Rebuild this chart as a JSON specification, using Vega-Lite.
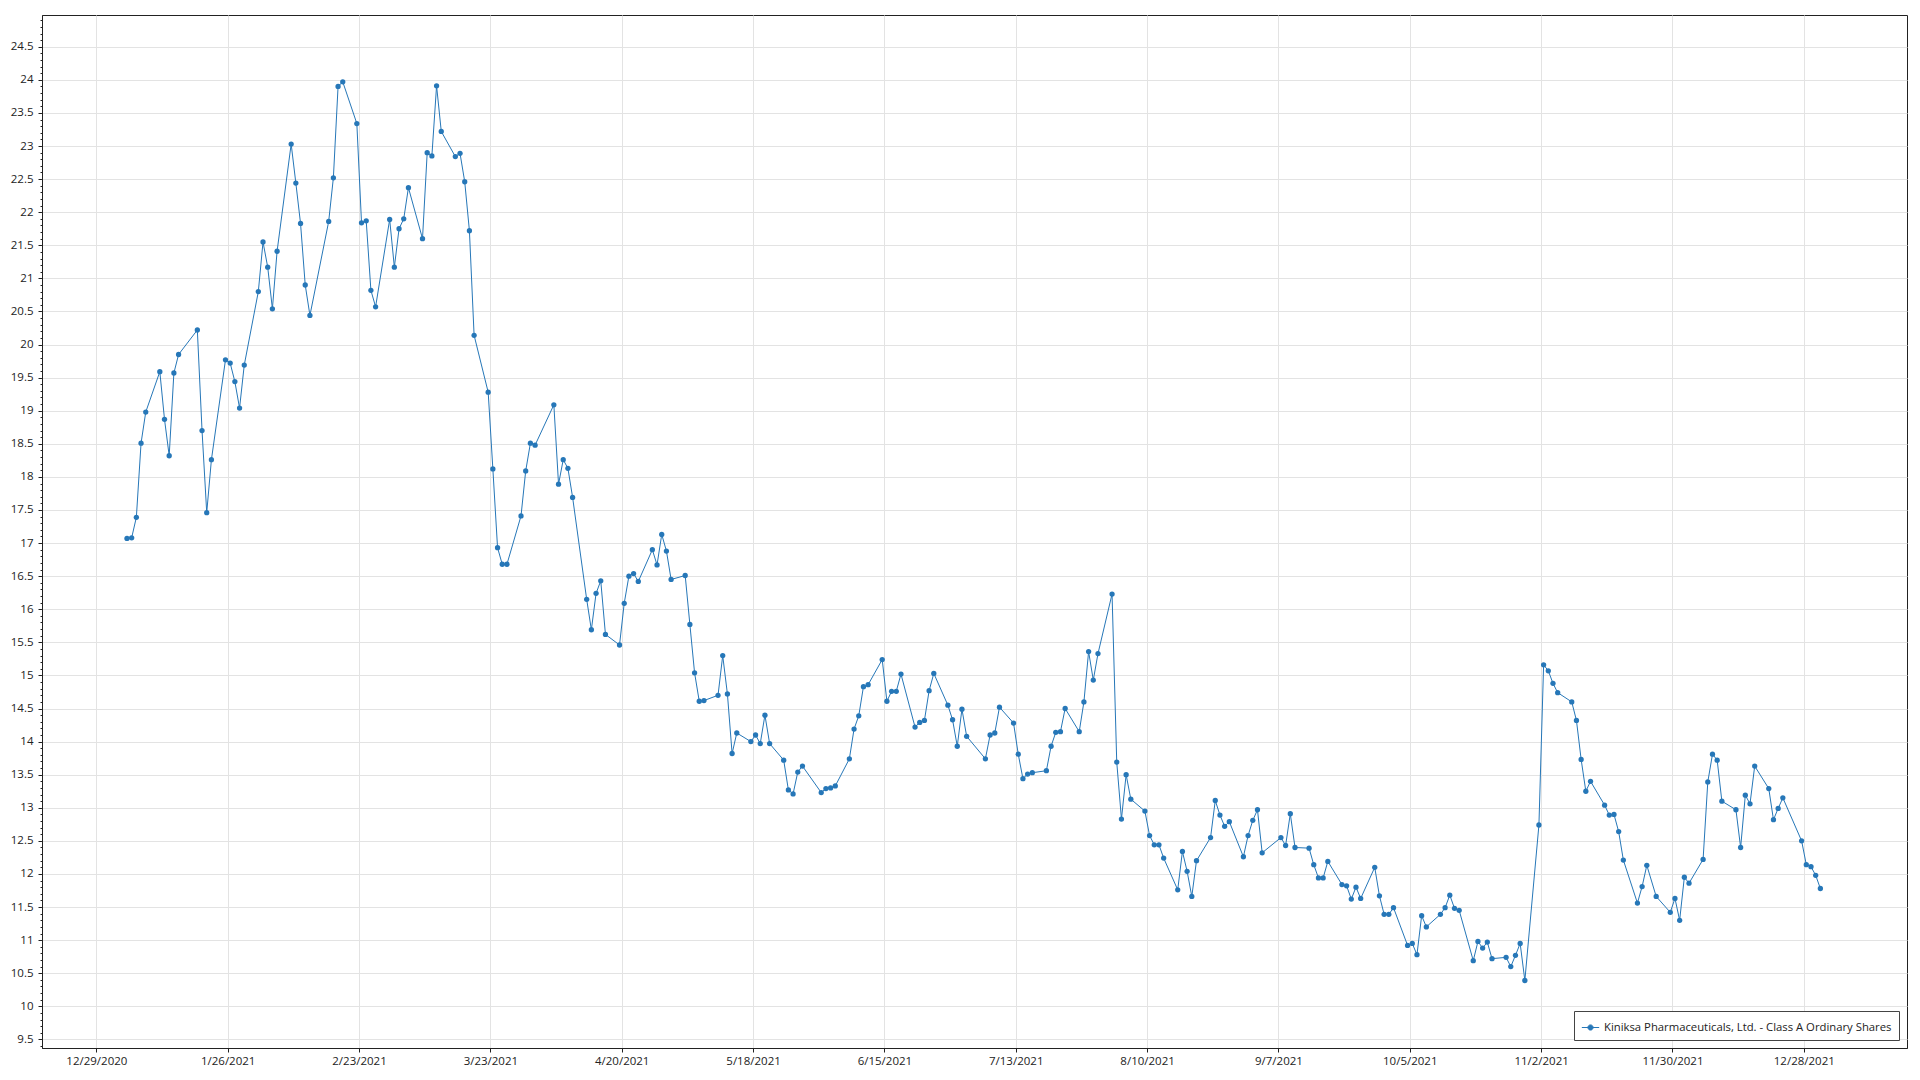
{
  "$schema": "https://vega.github.io/schema/vega-lite/v6.json",
  "autosize": {"type": "none"},
  "width": 1865,
  "height": 1033,
  "padding": {"left": 42, "top": 15, "right": 13, "bottom": 32},
  "background": "white",
  "config": {
    "view": {"stroke": "#222", "strokeWidth": 1},
    "font": "Open Sans",
    "axis": {"labelFont": "Open Sans", "labelFontSize": 11.5, "labelColor": "#222", "domainColor": "#222", "tickColor": "#222", "gridColor": "#e3e3e3", "gridWidth": 1, "title": null}
  },
  "data": {"values": [
    {"date": "2021-01-04", "close": 17.07}, {"date": "2021-01-05", "close": 17.08}, {"date": "2021-01-06", "close": 17.39}, {"date": "2021-01-07", "close": 18.51}, {"date": "2021-01-08", "close": 18.98},
    {"date": "2021-01-11", "close": 19.59}, {"date": "2021-01-12", "close": 18.87}, {"date": "2021-01-13", "close": 18.32}, {"date": "2021-01-14", "close": 19.57}, {"date": "2021-01-15", "close": 19.85},
    {"date": "2021-01-19", "close": 20.22}, {"date": "2021-01-20", "close": 18.70}, {"date": "2021-01-21", "close": 17.46}, {"date": "2021-01-22", "close": 18.26},
    {"date": "2021-01-25", "close": 19.77}, {"date": "2021-01-26", "close": 19.72}, {"date": "2021-01-27", "close": 19.44}, {"date": "2021-01-28", "close": 19.04}, {"date": "2021-01-29", "close": 19.69},
    {"date": "2021-02-01", "close": 20.80}, {"date": "2021-02-02", "close": 21.55}, {"date": "2021-02-03", "close": 21.17}, {"date": "2021-02-04", "close": 20.54}, {"date": "2021-02-05", "close": 21.41},
    {"date": "2021-02-08", "close": 23.03}, {"date": "2021-02-09", "close": 22.44}, {"date": "2021-02-10", "close": 21.83}, {"date": "2021-02-11", "close": 20.90}, {"date": "2021-02-12", "close": 20.44},
    {"date": "2021-02-16", "close": 21.86}, {"date": "2021-02-17", "close": 22.52}, {"date": "2021-02-18", "close": 23.90}, {"date": "2021-02-19", "close": 23.97},
    {"date": "2021-02-22", "close": 23.34}, {"date": "2021-02-23", "close": 21.84}, {"date": "2021-02-24", "close": 21.87}, {"date": "2021-02-25", "close": 20.82}, {"date": "2021-02-26", "close": 20.57},
    {"date": "2021-03-01", "close": 21.89}, {"date": "2021-03-02", "close": 21.17}, {"date": "2021-03-03", "close": 21.75}, {"date": "2021-03-04", "close": 21.90}, {"date": "2021-03-05", "close": 22.37},
    {"date": "2021-03-08", "close": 21.60}, {"date": "2021-03-09", "close": 22.90}, {"date": "2021-03-10", "close": 22.85}, {"date": "2021-03-11", "close": 23.91}, {"date": "2021-03-12", "close": 23.22},
    {"date": "2021-03-15", "close": 22.84}, {"date": "2021-03-16", "close": 22.89}, {"date": "2021-03-17", "close": 22.46}, {"date": "2021-03-18", "close": 21.72}, {"date": "2021-03-19", "close": 20.14},
    {"date": "2021-03-22", "close": 19.28}, {"date": "2021-03-23", "close": 18.12}, {"date": "2021-03-24", "close": 16.93}, {"date": "2021-03-25", "close": 16.68}, {"date": "2021-03-26", "close": 16.68},
    {"date": "2021-03-29", "close": 17.41}, {"date": "2021-03-30", "close": 18.09}, {"date": "2021-03-31", "close": 18.51}, {"date": "2021-04-01", "close": 18.48},
    {"date": "2021-04-05", "close": 19.09}, {"date": "2021-04-06", "close": 17.89}, {"date": "2021-04-07", "close": 18.26}, {"date": "2021-04-08", "close": 18.13}, {"date": "2021-04-09", "close": 17.69},
    {"date": "2021-04-12", "close": 16.15}, {"date": "2021-04-13", "close": 15.69}, {"date": "2021-04-14", "close": 16.24}, {"date": "2021-04-15", "close": 16.43}, {"date": "2021-04-16", "close": 15.62},
    {"date": "2021-04-19", "close": 15.46}, {"date": "2021-04-20", "close": 16.09}, {"date": "2021-04-21", "close": 16.50}, {"date": "2021-04-22", "close": 16.54}, {"date": "2021-04-23", "close": 16.42},
    {"date": "2021-04-26", "close": 16.90}, {"date": "2021-04-27", "close": 16.67}, {"date": "2021-04-28", "close": 17.13}, {"date": "2021-04-29", "close": 16.88}, {"date": "2021-04-30", "close": 16.45},
    {"date": "2021-05-03", "close": 16.51}, {"date": "2021-05-04", "close": 15.77}, {"date": "2021-05-05", "close": 15.04}, {"date": "2021-05-06", "close": 14.61}, {"date": "2021-05-07", "close": 14.62},
    {"date": "2021-05-10", "close": 14.70}, {"date": "2021-05-11", "close": 15.30}, {"date": "2021-05-12", "close": 14.72}, {"date": "2021-05-13", "close": 13.82}, {"date": "2021-05-14", "close": 14.13},
    {"date": "2021-05-17", "close": 14.00}, {"date": "2021-05-18", "close": 14.10}, {"date": "2021-05-19", "close": 13.97}, {"date": "2021-05-20", "close": 14.40}, {"date": "2021-05-21", "close": 13.97},
    {"date": "2021-05-24", "close": 13.72}, {"date": "2021-05-25", "close": 13.27}, {"date": "2021-05-26", "close": 13.21}, {"date": "2021-05-27", "close": 13.54}, {"date": "2021-05-28", "close": 13.63},
    {"date": "2021-06-01", "close": 13.23}, {"date": "2021-06-02", "close": 13.29}, {"date": "2021-06-03", "close": 13.30}, {"date": "2021-06-04", "close": 13.33},
    {"date": "2021-06-07", "close": 13.74}, {"date": "2021-06-08", "close": 14.19}, {"date": "2021-06-09", "close": 14.39}, {"date": "2021-06-10", "close": 14.83}, {"date": "2021-06-11", "close": 14.86},
    {"date": "2021-06-14", "close": 15.24}, {"date": "2021-06-15", "close": 14.61}, {"date": "2021-06-16", "close": 14.76}, {"date": "2021-06-17", "close": 14.76}, {"date": "2021-06-18", "close": 15.02},
    {"date": "2021-06-21", "close": 14.22}, {"date": "2021-06-22", "close": 14.29}, {"date": "2021-06-23", "close": 14.32}, {"date": "2021-06-24", "close": 14.77}, {"date": "2021-06-25", "close": 15.03},
    {"date": "2021-06-28", "close": 14.55}, {"date": "2021-06-29", "close": 14.33}, {"date": "2021-06-30", "close": 13.93}, {"date": "2021-07-01", "close": 14.49}, {"date": "2021-07-02", "close": 14.08},
    {"date": "2021-07-06", "close": 13.74}, {"date": "2021-07-07", "close": 14.10}, {"date": "2021-07-08", "close": 14.13}, {"date": "2021-07-09", "close": 14.52},
    {"date": "2021-07-12", "close": 14.28}, {"date": "2021-07-13", "close": 13.81}, {"date": "2021-07-14", "close": 13.44}, {"date": "2021-07-15", "close": 13.51}, {"date": "2021-07-16", "close": 13.53},
    {"date": "2021-07-19", "close": 13.56}, {"date": "2021-07-20", "close": 13.93}, {"date": "2021-07-21", "close": 14.14}, {"date": "2021-07-22", "close": 14.15}, {"date": "2021-07-23", "close": 14.50},
    {"date": "2021-07-26", "close": 14.15}, {"date": "2021-07-27", "close": 14.60}, {"date": "2021-07-28", "close": 15.36}, {"date": "2021-07-29", "close": 14.93}, {"date": "2021-07-30", "close": 15.33},
    {"date": "2021-08-02", "close": 16.23}, {"date": "2021-08-03", "close": 13.69}, {"date": "2021-08-04", "close": 12.83}, {"date": "2021-08-05", "close": 13.50}, {"date": "2021-08-06", "close": 13.13},
    {"date": "2021-08-09", "close": 12.95}, {"date": "2021-08-10", "close": 12.58}, {"date": "2021-08-11", "close": 12.44}, {"date": "2021-08-12", "close": 12.44}, {"date": "2021-08-13", "close": 12.24},
    {"date": "2021-08-16", "close": 11.76}, {"date": "2021-08-17", "close": 12.34}, {"date": "2021-08-18", "close": 12.04}, {"date": "2021-08-19", "close": 11.66}, {"date": "2021-08-20", "close": 12.20},
    {"date": "2021-08-23", "close": 12.55}, {"date": "2021-08-24", "close": 13.11}, {"date": "2021-08-25", "close": 12.89}, {"date": "2021-08-26", "close": 12.72}, {"date": "2021-08-27", "close": 12.79},
    {"date": "2021-08-30", "close": 12.26}, {"date": "2021-08-31", "close": 12.58}, {"date": "2021-09-01", "close": 12.81}, {"date": "2021-09-02", "close": 12.97}, {"date": "2021-09-03", "close": 12.32},
    {"date": "2021-09-07", "close": 12.55}, {"date": "2021-09-08", "close": 12.43}, {"date": "2021-09-09", "close": 12.91}, {"date": "2021-09-10", "close": 12.40},
    {"date": "2021-09-13", "close": 12.39}, {"date": "2021-09-14", "close": 12.14}, {"date": "2021-09-15", "close": 11.94}, {"date": "2021-09-16", "close": 11.94}, {"date": "2021-09-17", "close": 12.19},
    {"date": "2021-09-20", "close": 11.84}, {"date": "2021-09-21", "close": 11.82}, {"date": "2021-09-22", "close": 11.62}, {"date": "2021-09-23", "close": 11.80}, {"date": "2021-09-24", "close": 11.63},
    {"date": "2021-09-27", "close": 12.10}, {"date": "2021-09-28", "close": 11.67}, {"date": "2021-09-29", "close": 11.39}, {"date": "2021-09-30", "close": 11.39}, {"date": "2021-10-01", "close": 11.49},
    {"date": "2021-10-04", "close": 10.92}, {"date": "2021-10-05", "close": 10.95}, {"date": "2021-10-06", "close": 10.78}, {"date": "2021-10-07", "close": 11.37}, {"date": "2021-10-08", "close": 11.20},
    {"date": "2021-10-11", "close": 11.39}, {"date": "2021-10-12", "close": 11.49}, {"date": "2021-10-13", "close": 11.68}, {"date": "2021-10-14", "close": 11.48}, {"date": "2021-10-15", "close": 11.45},
    {"date": "2021-10-18", "close": 10.69}, {"date": "2021-10-19", "close": 10.98}, {"date": "2021-10-20", "close": 10.88}, {"date": "2021-10-21", "close": 10.97}, {"date": "2021-10-22", "close": 10.72},
    {"date": "2021-10-25", "close": 10.74}, {"date": "2021-10-26", "close": 10.60}, {"date": "2021-10-27", "close": 10.77}, {"date": "2021-10-28", "close": 10.95}, {"date": "2021-10-29", "close": 10.39},
    {"date": "2021-11-01", "close": 12.74}, {"date": "2021-11-02", "close": 15.16}, {"date": "2021-11-03", "close": 15.07}, {"date": "2021-11-04", "close": 14.88}, {"date": "2021-11-05", "close": 14.74},
    {"date": "2021-11-08", "close": 14.60}, {"date": "2021-11-09", "close": 14.32}, {"date": "2021-11-10", "close": 13.73}, {"date": "2021-11-11", "close": 13.25}, {"date": "2021-11-12", "close": 13.40},
    {"date": "2021-11-15", "close": 13.04}, {"date": "2021-11-16", "close": 12.89}, {"date": "2021-11-17", "close": 12.90}, {"date": "2021-11-18", "close": 12.64}, {"date": "2021-11-19", "close": 12.21},
    {"date": "2021-11-22", "close": 11.56}, {"date": "2021-11-23", "close": 11.81}, {"date": "2021-11-24", "close": 12.13}, {"date": "2021-11-26", "close": 11.66},
    {"date": "2021-11-29", "close": 11.42}, {"date": "2021-11-30", "close": 11.63}, {"date": "2021-12-01", "close": 11.30}, {"date": "2021-12-02", "close": 11.95}, {"date": "2021-12-03", "close": 11.86},
    {"date": "2021-12-06", "close": 12.22}, {"date": "2021-12-07", "close": 13.39}, {"date": "2021-12-08", "close": 13.81}, {"date": "2021-12-09", "close": 13.72}, {"date": "2021-12-10", "close": 13.10},
    {"date": "2021-12-13", "close": 12.97}, {"date": "2021-12-14", "close": 12.40}, {"date": "2021-12-15", "close": 13.19}, {"date": "2021-12-16", "close": 13.06}, {"date": "2021-12-17", "close": 13.63},
    {"date": "2021-12-20", "close": 13.29}, {"date": "2021-12-21", "close": 12.82}, {"date": "2021-12-22", "close": 12.99}, {"date": "2021-12-23", "close": 13.15},
    {"date": "2021-12-27", "close": 12.50}, {"date": "2021-12-28", "close": 12.14}, {"date": "2021-12-29", "close": 12.11}, {"date": "2021-12-30", "close": 11.98}, {"date": "2021-12-31", "close": 11.78}
  ]},
  "encoding": {
    "x": {
      "field": "date", "type": "temporal",
      "scale": {"type": "utc", "domain": [{"year": 2020, "month": 12, "date": 17, "hours": 10, "utc": true}, {"year": 2022, "month": 1, "date": 19, "utc": true}], "nice": false},
      "axis": {
        "values": [
          {"year": 2020, "month": 12, "date": 29, "utc": true}, {"year": 2021, "month": 1, "date": 26, "utc": true}, {"year": 2021, "month": 2, "date": 23, "utc": true},
          {"year": 2021, "month": 3, "date": 23, "utc": true}, {"year": 2021, "month": 4, "date": 20, "utc": true}, {"year": 2021, "month": 5, "date": 18, "utc": true},
          {"year": 2021, "month": 6, "date": 15, "utc": true}, {"year": 2021, "month": 7, "date": 13, "utc": true}, {"year": 2021, "month": 8, "date": 10, "utc": true},
          {"year": 2021, "month": 9, "date": 7, "utc": true}, {"year": 2021, "month": 10, "date": 5, "utc": true}, {"year": 2021, "month": 11, "date": 2, "utc": true},
          {"year": 2021, "month": 11, "date": 30, "utc": true}, {"year": 2021, "month": 12, "date": 28, "utc": true}
        ],
        "format": "%-m/%-d/%Y", "tickSize": 4, "labelPadding": 3, "labelFlush": false, "labelOverlap": false
      }
    },
    "color": {
      "datum": "Kiniksa Pharmaceuticals, Ltd. - Class A Ordinary Shares",
      "scale": {"range": ["#2677b8"]},
      "legend": {
        "title": null, "orient": "bottom-right", "offset": 8, "padding": 7,
        "fillColor": "white", "strokeColor": "#444",
        "labelFont": "Open Sans", "labelFontSize": 11.3, "labelColor": "#222", "labelLimit": 0,
        "symbolType": "M-1,0H1M-0.3,0A0.3,0.3,0,1,1,0.3,0A0.3,0.3,0,1,1,-0.3,0Z",
        "symbolSize": 300, "symbolStrokeWidth": 1, "symbolFillColor": "#2677b8", "symbolStrokeColor": "#2677b8"
      }
    }
  },
  "layer": [
    {
      "mark": {"type": "line", "strokeWidth": 1, "xOffset": 2.5},
      "encoding": {
        "y": {
          "field": "close", "type": "quantitative",
          "scale": {"domain": [9.37, 24.98], "nice": false, "zero": false},
          "axis": {
            "orient": "left", "format": "~f",
            "values": [9.5,10,10.5,11,11.5,12,12.5,13,13.5,14,14.5,15,15.5,16,16.5,17,17.5,18,18.5,19,19.5,20,20.5,21,21.5,22,22.5,23,23.5,24,24.5],
            "tickSize": 4, "labelPadding": 5, "labelOverlap": false, "labelFlush": false
          }
        }
      }
    },
    {
      "mark": {"type": "point", "filled": true, "size": 28, "opacity": 1, "xOffset": 2.5},
      "encoding": {
        "y": {
          "field": "close", "type": "quantitative",
          "axis": {
            "orient": "left",
            "values": [9.4,9.5,9.6,9.7,9.8,9.9,10,10.1,10.2,10.3,10.4,10.5,10.6,10.7,10.8,10.9,11,11.1,11.2,11.3,11.4,11.5,11.6,11.7,11.8,11.9,12,12.1,12.2,12.3,12.4,12.5,12.6,12.7,12.8,12.9,13,13.1,13.2,13.3,13.4,13.5,13.6,13.7,13.8,13.9,14,14.1,14.2,14.3,14.4,14.5,14.6,14.7,14.8,14.9,15,15.1,15.2,15.3,15.4,15.5,15.6,15.7,15.8,15.9,16,16.1,16.2,16.3,16.4,16.5,16.6,16.7,16.8,16.9,17,17.1,17.2,17.3,17.4,17.5,17.6,17.7,17.8,17.9,18,18.1,18.2,18.3,18.4,18.5,18.6,18.7,18.8,18.9,19,19.1,19.2,19.3,19.4,19.5,19.6,19.7,19.8,19.9,20,20.1,20.2,20.3,20.4,20.5,20.6,20.7,20.8,20.9,21,21.1,21.2,21.3,21.4,21.5,21.6,21.7,21.8,21.9,22,22.1,22.2,22.3,22.4,22.5,22.6,22.7,22.8,22.9,23,23.1,23.2,23.3,23.4,23.5,23.6,23.7,23.8,23.9,24,24.1,24.2,24.3,24.4,24.5,24.6,24.7,24.8,24.9],
            "labels": false, "grid": false, "domain": false, "tickSize": 2
          }
        }
      }
    }
  ],
  "resolve": {"axis": {"y": "independent"}}
}
